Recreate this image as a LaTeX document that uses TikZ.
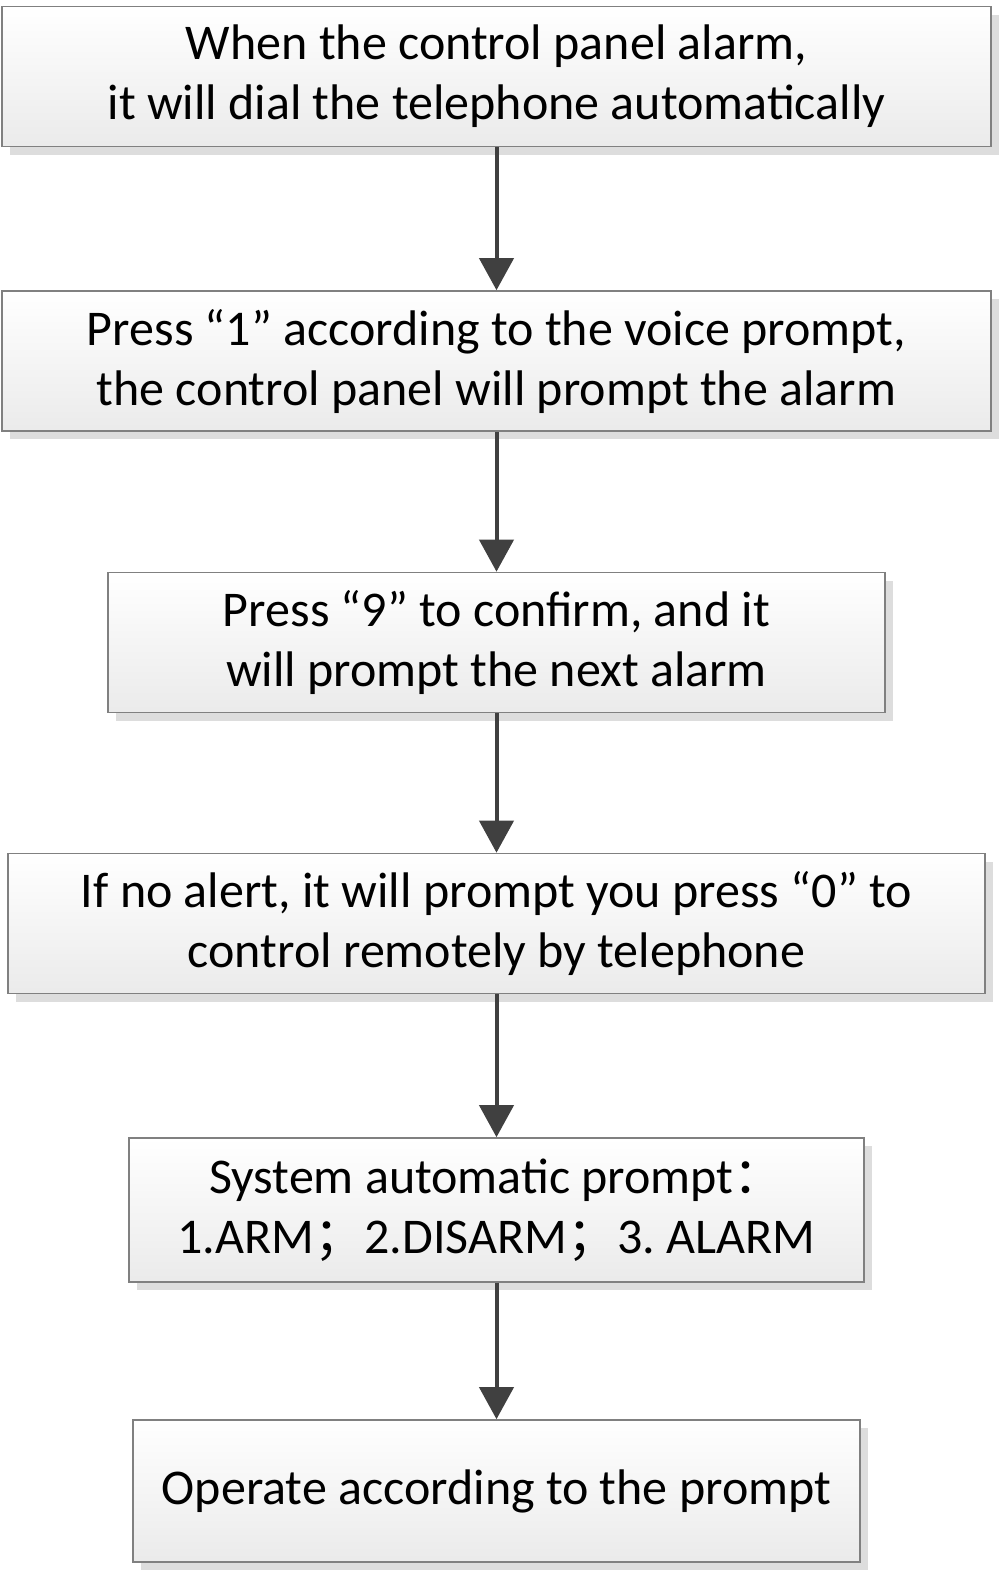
\documentclass[tikz,border=0pt]{standalone}
\usepackage{fontspec}
\setmainfont{Carlito}
\newfontfamily\cjk{Noto Sans CJK SC}
\usetikzlibrary{arrows.meta,shadows}
\frenchspacing
\tikzset{
    box/.style={draw=black!50, line width=0.8pt, top color=white, bottom color=black!8,
        align=center, inner sep=0pt, minimum height=70pt,
        font=\fontsize{25}{30}\selectfont,
        drop shadow={shadow xshift=4pt, shadow yshift=-4pt, fill=black!22, opacity=0.6}},
    arr/.style={draw=black!75, line width=2pt, -{Triangle[length=16pt,width=17pt]}}
}
\begin{document}
\begin{tikzpicture}[x=0.5pt, y=-0.5pt]
    \useasboundingbox (0,0) rectangle (1000,1570);
    \node[box, minimum width=494.5pt] (alarm) at (496.5,76.5)
        {When the control panel alarm,\\it will dial the telephone automatically};
    \node[box, minimum width=494.5pt] (press1) at (496.5,361)
        {Press “1” according to the voice prompt,\\the control panel will prompt the alarm};
    \node[box, minimum width=388.5pt] (press9) at (496.5,642.5)
        {Press “9” to confirm, and it\\will prompt the next alarm};
    \node[box, minimum width=488.5pt] (press0) at (496.5,923.5)
        {If no alert, it will prompt you press “0” to\\control remotely by telephone};
    \node[box, minimum width=367.5pt, minimum height=72pt] (menu) at (496.5,1210)
        {System automatic prompt{\cjk ：}\\1.ARM{\cjk ；}2.DISARM{\cjk ；}3. ALARM};
    \node[box, minimum width=363.5pt, minimum height=71pt] (operate) at (496.5,1491)
        {Operate according to the prompt};
    % connectors
    \draw[arr] (alarm) -- (press1);
    \draw[arr] (press1) -- (press9);
    \draw[arr] (press9) -- (press0);
    \draw[arr] (press0) -- (menu);
    \draw[arr] (menu) -- (operate);
\end{tikzpicture}
\end{document}
